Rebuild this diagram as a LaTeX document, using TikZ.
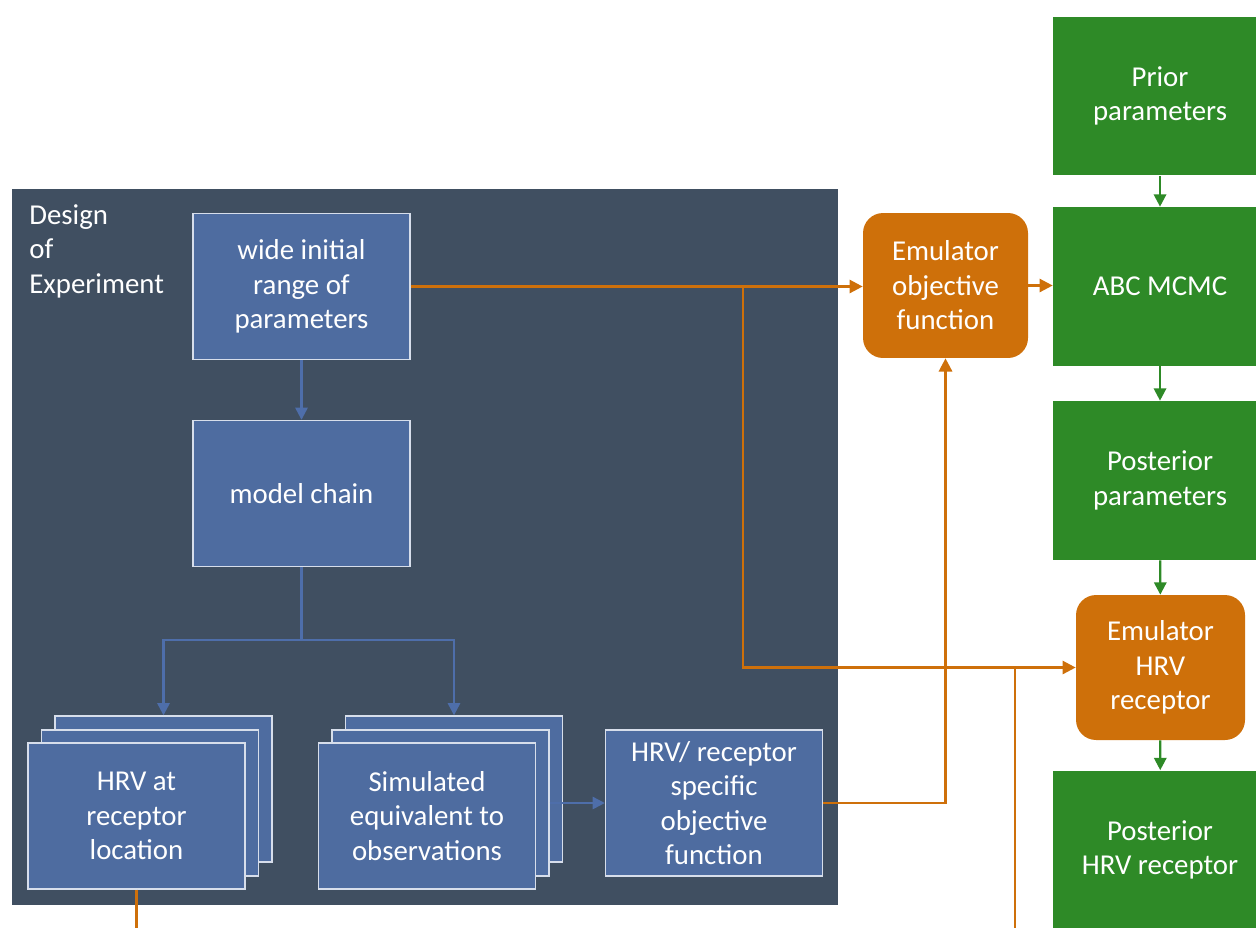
\documentclass[tikz,border=0pt]{standalone}
\usepackage{fontspec}
\setmainfont{Carlito}
\usetikzlibrary{arrows.meta}

\definecolor{doeback}{RGB}{64,79,97}
\definecolor{boxblue}{RGB}{78,108,160}
\definecolor{boxline}{RGB}{215,222,235}
\definecolor{linkblue}{RGB}{78,110,170}
\definecolor{emuorange}{RGB}{206,112,10}
\definecolor{abcgreen}{RGB}{46,138,39}

\begin{document}
\begin{tikzpicture}[x=0.02cm,y=-0.02cm,
	every node/.style={font=\fontsize{16.4}{19.6}\selectfont,text=white,align=center,inner sep=0pt},
	bluebox/.style={draw=boxline,line width=0.8pt,fill=boxblue,minimum width=4.34cm,minimum height=2.92cm},
	emubox/.style={fill=emuorange,rounded corners=0.4cm,minimum height=2.9cm},
	greenbox/.style={fill=abcgreen,minimum width=4.28cm,minimum height=3.18cm},
	bluelink/.style={draw=linkblue,line width=1.3pt,-{Triangle[length=7pt,width=7pt]}},
	orangelink/.style={draw=emuorange,line width=1.4pt,-{Triangle[length=7.5pt,width=7.5pt]}},
	greenlink/.style={draw=abcgreen,line width=1.3pt,-{Triangle[length=7pt,width=7pt]}}]
	\useasboundingbox (0,0) rectangle (1256,927);
	\clip (0,0) rectangle (1256,927); % page edge cuts the right column
	
	% Design of Experiment block
	\node[fill=doeback,minimum width=16.52cm,minimum height=14.32cm] (Doe) at (425,547) {};
	\node[anchor=north west,align=left] (DoeLabel) at (29,204) {Design\\of\\Experiment};
	
	\node[bluebox] (Wide) at (301.5,286.5) {wide initial\\range of\\parameters};
	\node[bluebox] (Chain) at (301.5,493.5) {model chain};
	
	% stacked boxes, back to front
	\node[bluebox] (HrvThree) at (163.5,789) {};
	\node[bluebox] (HrvTwo) at (150,803) {};
	\node[bluebox] (Hrv) at (136.5,816) {HRV at\\receptor\\location};
	\node[bluebox] (SimThree) at (454,789) {};
	\node[bluebox] (SimTwo) at (440.5,803) {};
	\node[bluebox] (Sim) at (427,816) {Simulated\\equivalent to\\observations};
	
	\node[bluebox] (Objective) at (714,803) {HRV/ receptor\\specific\\objective\\function};
	
	% emulators and the ABC column
	\node[emubox,minimum width=3.3cm] (EmuObj) at (945.5,285.5) {Emulator\\objective\\function};
	\node[greenbox] (Prior) at (1160,96) {Prior\\parameters};
	\node[greenbox] (Abc) at (1160,286.5) {ABC MCMC};
	\node[greenbox] (Post) at (1160,480.5) {Posterior\\parameters};
	\node[emubox,minimum width=3.38cm] (EmuHrv) at (1160.5,667.5) {Emulator\\HRV\\receptor};
	\node[greenbox] (PostHrv) at (1160,850) {Posterior\\HRV receptor};
	
	\coordinate (Split) at (301.5,640);
	\coordinate (Branch) at (743,286.5);
	\coordinate (Join) at (1015,667.5);
	\coordinate (HrvOut) at (136.5,930);
	\coordinate (JoinOut) at (1015,930);
	
	% blue links inside the block
	\draw[bluelink] (Wide) -- (Chain);
	\draw[draw=linkblue,line width=1.3pt] (Chain) -- (Split);
	\draw[bluelink] (Split) -| (HrvThree.north);
	\draw[bluelink] (Split) -| (SimThree.north);
	\draw[bluelink] (SimTwo.east) -- (Objective.west);
	
	% orange links
	\draw[orangelink] (Wide.east) -- (EmuObj.west |- Wide.east);
	\draw[orangelink] (Branch) |- (EmuHrv.west);
	\draw[orangelink] (Objective.east) -| (EmuObj.south);
	\draw[orangelink] (EmuObj.east) -- (Abc.west |- EmuObj.east);
	\draw[draw=emuorange,line width=1.4pt] (Hrv.south) -- (HrvOut);
	\draw[draw=emuorange,line width=1.4pt] (JoinOut) -- (Join);
	
	% green links
	\draw[greenlink] (Prior) -- (Abc);
	\draw[greenlink] (Abc) -- (Post);
	\draw[greenlink] (Post) -- (EmuHrv);
	\draw[greenlink] (EmuHrv) -- (PostHrv);
\end{tikzpicture}
\end{document}
